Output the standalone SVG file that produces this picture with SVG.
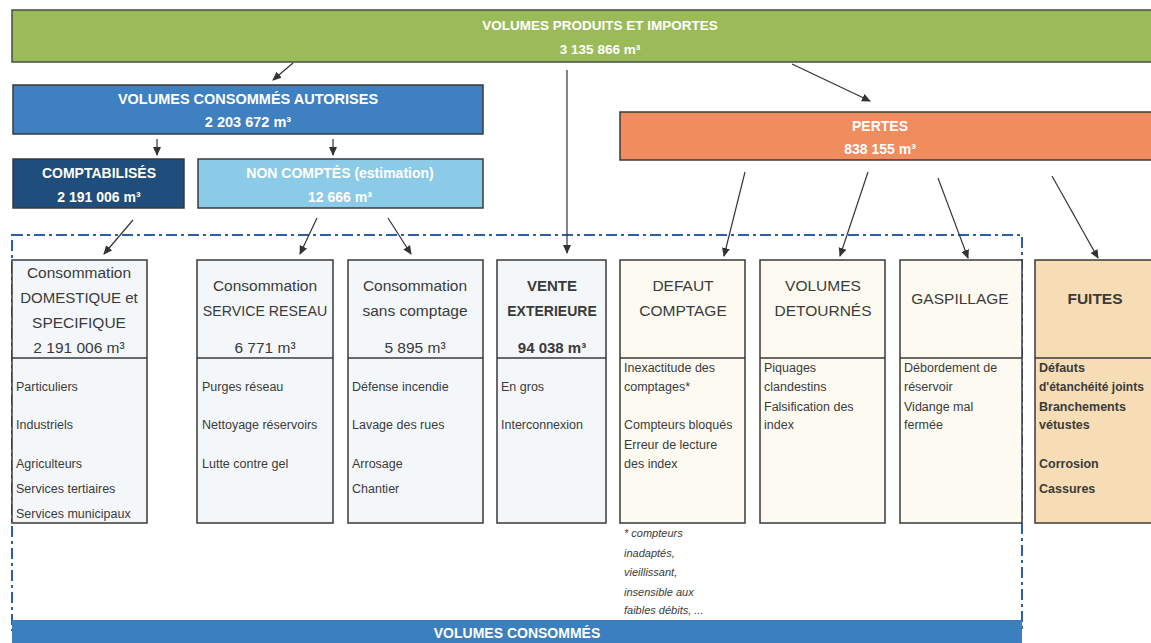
<svg xmlns="http://www.w3.org/2000/svg" width="1151" height="643" viewBox="0 0 1151 643">
<defs>
<marker id="ah" markerWidth="9" markerHeight="9" refX="8" refY="4.5" orient="auto" markerUnits="userSpaceOnUse">
<path d="M0,0.5 L9,4.5 L0,8.5 z" fill="#333"/>
</marker>
<style>
.hd{font-family:"Liberation Sans",Arial,sans-serif;font-weight:bold;fill:#fff;text-anchor:middle}
.bx{stroke:#3a3a3a;stroke-width:1.5}
.cool{fill:#f4f7fa}
.warm{fill:#fdfaf2}
.ttl{font-family:"Liberation Sans",Arial,sans-serif;font-size:15.5px;fill:#3a3a3a;text-anchor:middle}
.bd{font-family:"Liberation Sans",Arial,sans-serif;font-size:12.5px;fill:#3a3a3a}
.bb{font-weight:bold}
.fn{font-family:"Liberation Sans",Arial,sans-serif;font-size:11px;font-style:italic;fill:#3a3a3a}
.cn{stroke:#333;stroke-width:1.2;fill:none;marker-end:url(#ah)}
</style>
</defs>
<rect x="0" y="0" width="1151" height="643" fill="#ffffff"/>

<!-- dash-dot frame -->
<rect x="12" y="235" width="1010" height="395" fill="none" stroke="#2e5fa6" stroke-width="2" stroke-dasharray="11 4 3 4"/>

<g id="produits">
<rect x="12" y="10" width="1145" height="52" fill="#9bbb59" stroke="#4a4a4a" stroke-width="1.5"/>
<text class="hd" x="600" y="30" font-size="13.5">VOLUMES PRODUITS ET IMPORTES</text>
<text class="hd" x="600" y="54" font-size="13.5">3 135 866 m³</text>
</g>

<g id="autorises">
<rect x="13" y="85" width="470" height="49" fill="#3f80c0" stroke="#3a3a3a" stroke-width="1.5"/>
<text class="hd" x="248" y="104" font-size="14.5">VOLUMES CONSOMMÉS AUTORISES</text>
<text class="hd" x="248" y="127" font-size="14.5">2 203 672 m³</text>
</g>

<g id="comptabilises">
<rect x="13" y="159" width="171" height="49" fill="#1f4e7c" stroke="#3a3a3a" stroke-width="1.5"/>
<text class="hd" x="99" y="178" font-size="14">COMPTABILISÉS</text>
<text class="hd" x="99" y="202" font-size="14">2 191 006 m³</text>
</g>

<g id="noncomptes">
<rect x="198" y="159" width="285" height="49" fill="#8ccbe8" stroke="#3a3a3a" stroke-width="1.5"/>
<text class="hd" x="340" y="178" font-size="14">NON COMPTÉS (estimation)</text>
<text class="hd" x="340" y="202" font-size="14">12 666 m³</text>
</g>

<g id="pertes">
<rect x="620" y="112" width="537" height="48" fill="#f08c5e" stroke="#3a3a3a" stroke-width="1.5"/>
<text class="hd" x="880" y="131" font-size="14">PERTES</text>
<text class="hd" x="880" y="154" font-size="14">838 155 m³</text>
</g>

<g id="domestique">
<rect class="bx cool" x="12" y="260" width="135" height="263"/>
<line class="bx" x1="12" y1="358" x2="147" y2="358"/>
<text class="ttl" x="79" y="278">Consommation</text>
<text class="ttl" x="79" y="303" style="font-size:15px">DOMESTIQUE et</text>
<text class="ttl" x="79" y="328">SPECIFIQUE</text>
<text class="ttl" x="79" y="353">2 191 006 m³</text>
<text class="bd" x="16" y="391">Particuliers</text>
<text class="bd" x="16" y="429">Industriels</text>
<text class="bd" x="16" y="468">Agriculteurs</text>
<text class="bd" x="16" y="493">Services tertiaires</text>
<text class="bd" x="16" y="518">Services municipaux</text>
</g>

<g id="service">
<rect class="bx cool" x="197" y="260" width="136" height="263"/>
<line class="bx" x1="197" y1="358" x2="333" y2="358"/>
<text class="ttl" x="265" y="291">Consommation</text>
<text class="ttl" x="265" y="316" style="font-size:14.2px">SERVICE RESEAU</text>
<text class="ttl" x="265" y="353">6 771 m³</text>
<text class="bd" x="202" y="391">Purges réseau</text>
<text class="bd" x="202" y="429">Nettoyage réservoirs</text>
<text class="bd" x="202" y="468">Lutte contre gel</text>
</g>

<g id="sanscomptage">
<rect class="bx cool" x="348" y="260" width="135" height="263"/>
<line class="bx" x1="348" y1="358" x2="483" y2="358"/>
<text class="ttl" x="415" y="291">Consommation</text>
<text class="ttl" x="415" y="316">sans comptage</text>
<text class="ttl" x="415" y="353">5 895 m³</text>
<text class="bd" x="352" y="391">Défense incendie</text>
<text class="bd" x="352" y="429">Lavage des rues</text>
<text class="bd" x="352" y="468">Arrosage</text>
<text class="bd" x="352" y="493">Chantier</text>
</g>

<g id="vente">
<rect class="bx cool" x="497" y="260" width="109" height="263"/>
<line class="bx" x1="497" y1="358" x2="606" y2="358"/>
<text class="ttl bb" x="552" y="291" style="font-size:15px">VENTE</text>
<text class="ttl bb" x="552" y="316" style="font-size:14px">EXTERIEURE</text>
<text class="ttl bb" x="552" y="353" style="font-size:15px">94 038 m³</text>
<text class="bd" x="501" y="391">En gros</text>
<text class="bd" x="501" y="429">Interconnexion</text>
</g>

<g id="defaut">
<rect class="bx warm" x="620" y="260" width="125" height="263"/>
<line class="bx" x1="620" y1="358" x2="745" y2="358"/>
<text class="ttl" x="683" y="291">DEFAUT</text>
<text class="ttl" x="683" y="316">COMPTAGE</text>
<text class="bd" x="624" y="372">Inexactitude des</text>
<text class="bd" x="624" y="391">comptages*</text>
<text class="bd" x="624" y="429">Compteurs bloqués</text>
<text class="bd" x="624" y="449">Erreur de lecture</text>
<text class="bd" x="624" y="468">des index</text>
<text class="fn" x="624" y="537">* compteurs</text>
<text class="fn" x="624" y="557">inadaptés,</text>
<text class="fn" x="624" y="576">vieillissant,</text>
<text class="fn" x="624" y="596">insensible aux</text>
<text class="fn" x="624" y="614">faibles débits, ...</text>
</g>

<g id="detournes">
<rect class="bx warm" x="760" y="260" width="125" height="263"/>
<line class="bx" x1="760" y1="358" x2="885" y2="358"/>
<text class="ttl" x="823" y="291">VOLUMES</text>
<text class="ttl" x="823" y="316">DETOURNÉS</text>
<text class="bd" x="764" y="372">Piquages</text>
<text class="bd" x="764" y="391">clandestins</text>
<text class="bd" x="764" y="411">Falsification des</text>
<text class="bd" x="764" y="429">index</text>
</g>

<g id="gaspillage">
<rect class="bx warm" x="900" y="260" width="122" height="263"/>
<line class="bx" x1="900" y1="358" x2="1022" y2="358"/>
<text class="ttl" x="960" y="304">GASPILLAGE</text>
<text class="bd" x="904" y="372">Débordement de</text>
<text class="bd" x="904" y="391">réservoir</text>
<text class="bd" x="904" y="411">Vidange mal</text>
<text class="bd" x="904" y="429">fermée</text>
</g>

<g id="fuites">
<rect class="bx" x="1035" y="260" width="125" height="263" fill="#f7ddb6"/>
<line class="bx" x1="1035" y1="358" x2="1151" y2="358"/>
<text class="ttl bb" x="1095" y="304">FUITES</text>
<text class="bd bb" x="1039" y="372">Défauts</text>
<text class="bd bb" x="1039" y="391" style="font-size:12px">d'étanchéité joints</text>
<text class="bd bb" x="1039" y="411">Branchements</text>
<text class="bd bb" x="1039" y="429">vétustes</text>
<text class="bd bb" x="1039" y="468">Corrosion</text>
<text class="bd bb" x="1039" y="493">Cassures</text>
</g>

<g id="consommes">
<rect x="12" y="620" width="1010" height="30" fill="#3c7fbf"/>
<text class="hd" x="517" y="638" font-size="14">VOLUMES CONSOMMÉS</text>
</g>

<g id="connectors">
<line class="cn" x1="293" y1="63" x2="273" y2="80"/>
<line class="cn" x1="792" y1="64" x2="870" y2="101"/>
<line class="cn" x1="567" y1="70" x2="567" y2="253"/>
<line class="cn" x1="157" y1="139" x2="157" y2="155"/>
<line class="cn" x1="333" y1="139" x2="333" y2="155"/>
<line class="cn" x1="133" y1="220" x2="104" y2="254"/>
<line class="cn" x1="317" y1="218" x2="300" y2="254"/>
<line class="cn" x1="388" y1="218" x2="411" y2="254"/>
<line class="cn" x1="745" y1="172" x2="724" y2="256"/>
<line class="cn" x1="868" y1="172" x2="840" y2="256"/>
<line class="cn" x1="938" y1="178" x2="968" y2="258"/>
<line class="cn" x1="1052" y1="176" x2="1098" y2="258"/>
</g>
</svg>
